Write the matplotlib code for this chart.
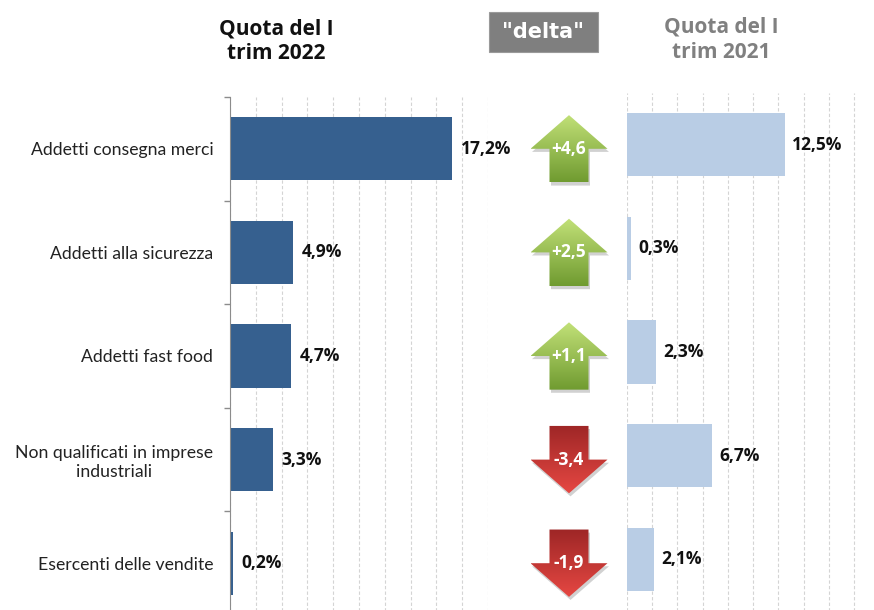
import numpy as np
import matplotlib
matplotlib.use('Agg')
import matplotlib.pyplot as plt
from matplotlib.patches import Polygon, Rectangle

# --- Data ---
categories = ['Addetti consegna merci', 'Addetti alla sicurezza', 'Addetti fast food',
              'Non qualificati in imprese\nindustriali', 'Esercenti delle vendite']
share_2022 = [17.2, 4.9, 4.7, 3.3, 0.2]
share_2021 = [12.5, 0.3, 2.3, 6.7, 2.1]
delta = [4.6, 2.5, 1.1, -3.4, -1.9]

plt.rcParams['font.family'] = ['Lato', 'DejaVu Sans']
BOLD = ['Open Sans', 'DejaVu Sans']

W, H = 874, 610
fig = plt.figure(figsize=(W / 100, H / 100), dpi=100)

DARK = '#36608f'
LIGHT = '#b9cde5'
GRID = '#d4d4d4'

y = np.arange(len(categories))
row_h = 518 / H


def pct(v):
    return f'{v:.1f}'.replace('.', ',') + '%'


def setup(ax, xmax):
    ax.set_xlim(0, xmax)
    ax.set_ylim(len(categories) - 0.5, -0.5)
    ax.set_xticks(np.arange(0, xmax + 0.01, 2))
    ax.tick_params(axis='x', length=0, labelbottom=False)
    ax.grid(axis='x', color=GRID, linestyle=(0, (3, 2)), linewidth=0.8)
    ax.set_axisbelow(True)
    for s in ['top', 'right', 'bottom']:
        ax.spines[s].set_visible(False)


# --- left panel: 2022 ---
ax1 = fig.add_axes([230 / W, 1 - 97 / H - row_h, 258 / W, row_h])
setup(ax1, 20)
ax1.barh(y, share_2022, height=0.61, color=DARK)
ax1.spines['left'].set_color('#8c8c8c')
ax1.set_yticks(y)
ax1.set_yticklabels(categories, fontsize=12.7, color='#222222', multialignment='center')
ax1.tick_params(axis='y', which='major', length=0, pad=12)
ax1.set_yticks(np.arange(-0.5, len(categories), 1), minor=True)
ax1.tick_params(axis='y', which='minor', length=4, color='#8c8c8c', width=1)
for yi, v in zip(y, share_2022):
    ax1.annotate(pct(v), xy=(v, yi), xytext=(6.5, 0), textcoords='offset points',
                 ha='left', va='center', fontsize=12.5, fontweight='bold',
                 color='#111111', family=BOLD)

# --- right panel: 2021 ---
ax3 = fig.add_axes([627 / W, 1 - 93 / H - row_h, 231 / W, row_h])
setup(ax3, 18.3)
ax3.spines['left'].set_visible(False)
ax3.set_yticks([])
ax3.barh(y, share_2021, height=0.61, color=LIGHT)
for yi, v in zip(y, share_2021):
    ax3.annotate(pct(v), xy=(v, yi), xytext=(5.5, 0), textcoords='offset points',
                 ha='left', va='center', fontsize=12.5, fontweight='bold',
                 color='#111111', family=BOLD)

# --- middle panel: delta arrows ---
ax2 = fig.add_axes([500 / W, 1 - 97 / H - row_h, 140 / W, row_h])
ax2.set_xlim(0, 140)
ax2.set_ylim(len(categories) - 0.5, -0.5)
ax2.axis('off')

cx = 69
hw, sw, hh = 38.5, 19.5, 0.325
for yi, d in zip(y, delta):
    if d >= 0:
        pts = [(cx, yi - hh), (cx + hw, yi), (cx + sw, yi), (cx + sw, yi + hh),
               (cx - sw, yi + hh), (cx - sw, yi), (cx - hw, yi)]
        top_c, bot_c = np.array([0.76, 0.88, 0.47]), np.array([0.44, 0.61, 0.19])
    else:
        pts = [(cx - sw, yi - hh), (cx + sw, yi - hh), (cx + sw, yi), (cx + hw, yi),
               (cx, yi + hh), (cx - hw, yi), (cx - sw, yi)]
        top_c, bot_c = np.array([0.62, 0.15, 0.15]), np.array([0.90, 0.28, 0.26])
    shadow = Polygon([(px + 1.5, py + 0.03) for px, py in pts], closed=True,
                     facecolor='#000000', alpha=0.18, edgecolor='none')
    ax2.add_patch(shadow)
    poly = Polygon(pts, closed=True, facecolor='none', edgecolor='none')
    ax2.add_patch(poly)
    t = np.linspace(0, 1, 64)[:, None, None]
    grad = (top_c[None, None, :] * (1 - t) + bot_c[None, None, :] * t)
    im = ax2.imshow(grad, extent=(cx - hw, cx + hw, yi + hh, yi - hh), origin='upper',
                    aspect='auto', interpolation='bilinear', zorder=2)
    im.set_clip_path(poly)
    ax2.text(cx, yi, f'{d:+.1f}'.replace('.', ','), ha='center', va='center',
             fontsize=12.5, fontweight='bold', color='white', zorder=3, family=BOLD)
ax2.set_xlim(0, 140)
ax2.set_ylim(len(categories) - 0.5, -0.5)

# --- headers ---
fig.text(276 / W, 1 - 41 / H, 'Quota del I\ntrim 2022', ha='center', va='center',
         fontsize=15, fontweight='bold', color='#111111', linespacing=1.25, family=BOLD)
fig.text(721 / W, 1 - 40 / H, 'Quota del I\ntrim 2021', ha='center', va='center',
         fontsize=15, fontweight='bold', color='#808080', linespacing=1.25, family=BOLD)
fig.patches.append(Rectangle((489 / W, 1 - 52 / H), 109 / W, 40 / H,
                             transform=fig.transFigure, facecolor='#7f7f7f',
                             edgecolor='#9a9a9a', linewidth=0.8))
fig.text(543.5 / W, 1 - 32 / H, '"delta"', ha='center', va='center',
         fontsize=15, fontweight='bold', color='white', family=['DejaVu Sans'])

fig.savefig('out.png', dpi=100)
